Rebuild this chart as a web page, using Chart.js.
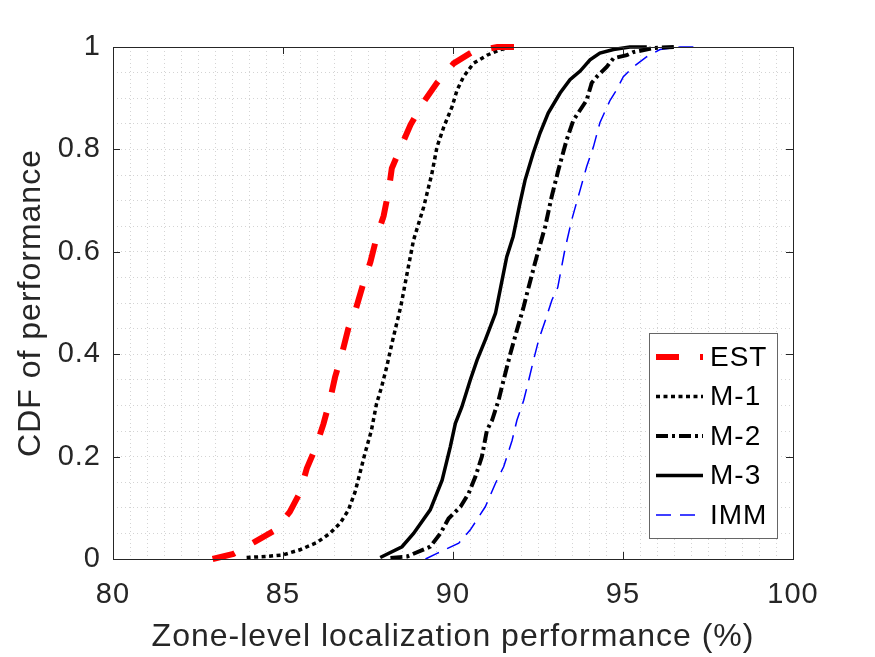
<!DOCTYPE html>
<html>
<head>
<meta charset="utf-8">
<script src="https://cdn.jsdelivr.net/npm/chart.js@4"></script>
<style>
  body { margin: 0; background: #fff; }
</style>
</head>
<body>
<canvas id="myChart" width="875" height="657"></canvas>
<script>
//tick labels
const xTicks = [80, 85, 90, 95, 100]
const yTicks = [0, 0.2, 0.4, 0.6, 0.8, 1]

//CDF curves, x = performance (%), y = CDF
const estX = [82.93, 83.54, 84.18, 84.76, 85.2, 85.5, 85.7, 85.97, 86.19, 86.38, 86.53, 86.73, 86.92, 87.15, 87.37, 87.57, 87.76, 87.96, 88.11, 88.2, 88.5, 88.75, 89.14, 89.53, 90.02, 90.56, 91.3, 92.0]
const estY = [0, 0.01, 0.034, 0.056, 0.092, 0.13, 0.177, 0.219, 0.264, 0.31, 0.355, 0.40, 0.45, 0.49, 0.54, 0.58, 0.63, 0.67, 0.72, 0.763, 0.81, 0.848, 0.893, 0.93, 0.968, 0.99, 1.0, 1.0]

const m1X = [83.93, 84.52, 85.0, 85.5, 85.99, 86.38, 86.68, 86.92, 87.12, 87.26, 87.41, 87.6, 87.75, 87.9, 88.05, 88.2, 88.34, 88.47, 88.65, 88.84, 89.14, 89.38, 89.53, 89.73, 89.97, 90.12, 90.31, 90.6, 91.0, 91.39, 91.78]
const m1Y = [0.003, 0.005, 0.008, 0.018, 0.032, 0.05, 0.07, 0.095, 0.131, 0.167, 0.206, 0.251, 0.303, 0.336, 0.375, 0.42, 0.459, 0.495, 0.558, 0.623, 0.688, 0.753, 0.805, 0.844, 0.883, 0.916, 0.942, 0.968, 0.984, 0.995, 1.0]

const m2X = [88.16, 88.65, 89.33, 89.63, 89.87, 90.22, 90.46, 90.66, 90.85, 91.0, 91.15, 91.34, 91.49, 91.69, 91.88, 92.08, 92.22, 92.46, 92.71, 92.9, 93.1, 93.34, 93.54, 93.93, 94.08, 94.23, 94.52, 94.72, 95.11, 95.3, 95.9, 96.5]
const m2Y = [0.002, 0.005, 0.024, 0.05, 0.079, 0.102, 0.128, 0.161, 0.2, 0.252, 0.271, 0.31, 0.35, 0.402, 0.447, 0.493, 0.53, 0.59, 0.649, 0.707, 0.76, 0.818, 0.857, 0.896, 0.93, 0.942, 0.961, 0.978, 0.984, 0.99, 0.998, 1.0]

const m3X = [87.86, 88.5, 88.84, 89.33, 89.68, 89.92, 90.07, 90.26, 90.51, 90.71, 90.95, 91.25, 91.4, 91.58, 91.77, 91.97, 92.12, 92.36, 92.56, 92.8, 93.15, 93.44, 93.74, 94.03, 94.32, 94.72, 95.2, 95.7]
const m3Y = [0.003, 0.024, 0.05, 0.096, 0.154, 0.219, 0.265, 0.297, 0.35, 0.389, 0.428, 0.48, 0.53, 0.59, 0.63, 0.695, 0.74, 0.793, 0.832, 0.871, 0.91, 0.936, 0.953, 0.975, 0.988, 0.995, 1.0, 1.0]

const immX = [89.19, 89.53, 90.17, 90.51, 90.95, 91.25, 91.49, 91.74, 91.88, 92.08, 92.23, 92.37, 92.52, 92.72, 92.91, 93.08, 93.29, 93.49, 93.74, 93.93, 94.13, 94.32, 94.62, 94.81, 95.01, 95.3, 95.7, 96.09, 96.68, 97.07]
const immY = [0, 0.011, 0.031, 0.057, 0.102, 0.148, 0.18, 0.232, 0.271, 0.31, 0.35, 0.389, 0.428, 0.467, 0.506, 0.53, 0.604, 0.662, 0.721, 0.766, 0.805, 0.852, 0.896, 0.916, 0.942, 0.961, 0.981, 0.995, 1.0, 1.0]

const FONT = '"Liberation Sans", Arial, sans-serif'
const TEXT = '#262626'

function points(xs, ys) {
  return xs.map((x, i) => ({x: x, y: ys[i]}))
}

function curve(label, xs, ys, color, width, dash) {
  return {
    label: label,
    data: points(xs, ys),
    showLine: true,
    borderColor: color,
    backgroundColor: color,
    borderWidth: width,
    borderDash: dash,
    pointRadius: 0,
    tension: 0,
    clip: 8
  }
}

const data = {
  datasets: [
    curve('EST', estX, estY, '#ff0000', 6, [23, 21]),
    curve('M-1', m1X, m1Y, '#000000', 3.5, [4, 3.5]),
    curve('M-2', m2X, m2Y, '#000000', 4, [12, 4, 3, 4]),
    curve('M-3', m3X, m3Y, '#000000', 3.5, []),
    curve('IMM', immX, immY, '#0000ff', 1.5, [15, 9])
  ]
}

//matlab text is a bit wider than Liberation Sans
const spacing = {
  id: 'spacing',
  beforeUpdate(chart) { chart.ctx.letterSpacing = '1px' },
  beforeDraw(chart) { chart.ctx.letterSpacing = '1px' }
}

//box round the axes with inward ticks on all four sides
const axisBox = {
  id: 'axisBox',
  afterDatasetsDraw(chart) {
    const ctx = chart.ctx
    const a = chart.chartArea
    const x = chart.scales.x
    const y = chart.scales.y
    ctx.save()
    ctx.strokeStyle = TEXT
    ctx.lineWidth = 1
    ctx.setLineDash([])
    ctx.strokeRect(a.left + 0.5, a.top + 0.5, a.right - a.left, a.bottom - a.top)
    ctx.beginPath()
    xTicks.forEach(v => {
      const px = Math.round(x.getPixelForValue(v)) + 0.5
      ctx.moveTo(px, a.bottom); ctx.lineTo(px, a.bottom - 7)
      ctx.moveTo(px, a.top); ctx.lineTo(px, a.top + 7)
    })
    yTicks.forEach(v => {
      const py = Math.round(y.getPixelForValue(v)) + 0.5
      ctx.moveTo(a.left, py); ctx.lineTo(a.left + 7, py)
      ctx.moveTo(a.right, py); ctx.lineTo(a.right - 7, py)
    })
    ctx.stroke()
    ctx.restore()
  }
}

//legend inside the axes, bottom right, with a border
const boxLegend = {
  id: 'boxLegend',
  afterDatasetsDraw(chart) {
    const ctx = chart.ctx
    const a = chart.chartArea
    const w = 128, h = 205
    const x0 = a.right - 16 - w
    const y0 = a.bottom - 21 - h
    ctx.save()
    ctx.fillStyle = '#ffffff'
    ctx.fillRect(x0, y0, w, h)
    ctx.strokeStyle = '#666666'
    ctx.lineWidth = 1
    ctx.strokeRect(x0 + 0.5, y0 + 0.5, w, h)
    chart.data.datasets.forEach((ds, i) => {
      const ly = y0 + 24 + i * 39.5
      ctx.beginPath()
      ctx.strokeStyle = ds.borderColor
      ctx.lineWidth = ds.borderWidth
      ctx.setLineDash(ds.borderDash)
      ctx.moveTo(x0 + 7, ly)
      ctx.lineTo(x0 + 54, ly)
      ctx.stroke()
      ctx.fillStyle = '#000000'
      ctx.font = '28px ' + FONT
      ctx.textBaseline = 'middle'
      ctx.textAlign = 'left'
      ctx.fillText(ds.label, x0 + 61, ly + 1)
    })
    ctx.restore()
  }
}

const config = {
  type: 'scatter',
  data: data,
  options: {
    responsive: false,
    animation: false,
    layout: {
      padding: {left: 0, top: 47, right: 82, bottom: 0}
    },
    plugins: {
      legend: {display: false},
      tooltip: {enabled: false}
    },
    scales: {
      x: {
        type: 'linear',
        min: 80,
        max: 100,
        afterFit(scale) { scale.height = 98 },
        grid: {color: '#d4d4d4', lineWidth: 1, drawTicks: false},
        border: {display: false, dash: [1, 3]},
        ticks: {
          stepSize: 0.5,
          autoSkip: false,
          maxRotation: 0,
          padding: 19,
          color: TEXT,
          font: {family: FONT, size: 29},
          callback: v => xTicks.includes(v) ? String(v) : ''
        },
        title: {
          display: true,
          text: 'Zone-level localization performance (%)',
          color: TEXT,
          font: {family: FONT, size: 32},
          padding: {top: 0, bottom: 1}
        }
      },
      y: {
        type: 'linear',
        min: 0,
        max: 1,
        afterFit(scale) { scale.width = 113 },
        grid: {color: '#d4d4d4', lineWidth: 1, drawTicks: false},
        border: {display: false, dash: [1, 3]},
        ticks: {
          stepSize: 0.05,
          autoSkip: false,
          padding: 12,
          color: TEXT,
          font: {family: FONT, size: 29},
          callback: v => yTicks.includes(v) ? String(v) : ''
        },
        title: {
          display: true,
          text: 'CDF of performance',
          color: TEXT,
          font: {family: FONT, size: 32},
          padding: {top: 12, bottom: 0}
        }
      }
    }
  },
  plugins: [spacing, axisBox, boxLegend]
}

const myChart = new Chart(document.getElementById('myChart'), config)
</script>
</body>
</html>
